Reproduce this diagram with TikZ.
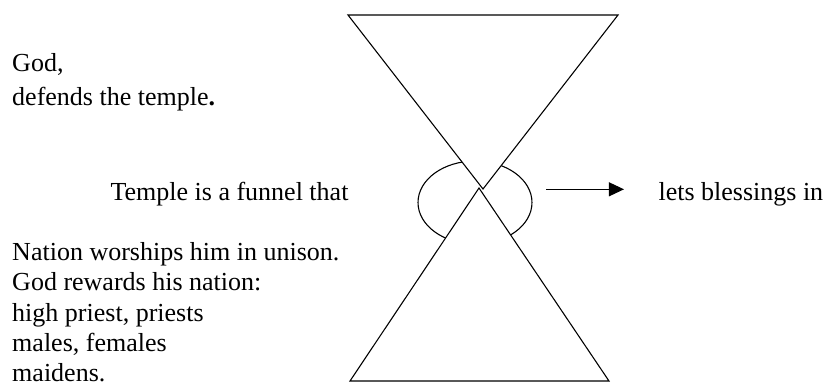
\documentclass[tikz,border=0pt]{standalone}
\usepackage{fontspec}
\setmainfont{Liberation Serif}
\usetikzlibrary{shapes.geometric,arrows.meta}

\begin{document}
\begin{tikzpicture}[
    x=0.4615pt, y=-0.4615pt,
    line width=0.5pt,
    txt/.style={inner sep=0pt, anchor=base west, align=left, font=\fontsize{12}{14}\selectfont},
    bowl/.style={draw, ellipse, inner sep=0pt, minimum width=52.6pt, minimum height=38.3pt},
    funnel/.style={draw, fill=white, line join=miter},
    arrow/.style={-{Triangle[length=7pt,width=6.5pt]}, shorten >=15.7pt}
]
  \useasboundingbox (0,0) rectangle (829,382);

  % the hourglass
  \node[bowl] (ring) at (475,202.5) {};
  \draw[funnel] (348,15) -- (618,15) -- (483,189) -- cycle;
  \draw[funnel] (479,188) -- (609,381) -- (350,381) -- cycle;

  % texts (a block sits on the baseline of its last line)
  \node[txt] (god) at (11.7,105) {God,\\[1.6pt]defends the temple\textbf{.}};
  \node[txt] (temple) at (110,200) {Temple is a funnel that};
  \node[txt] (bless) at (658,200) {lets blessings in};
  \node[txt] (nation) at (11.7,381.7) {Nation worships him in unison.\\God rewards his nation:\\high priest, priests\\males, females\\maidens.};

  \coordinate (tail) at (546,189.3);
  \draw[arrow] (tail) -- (tail -| bless.west);
\end{tikzpicture}
\end{document}
